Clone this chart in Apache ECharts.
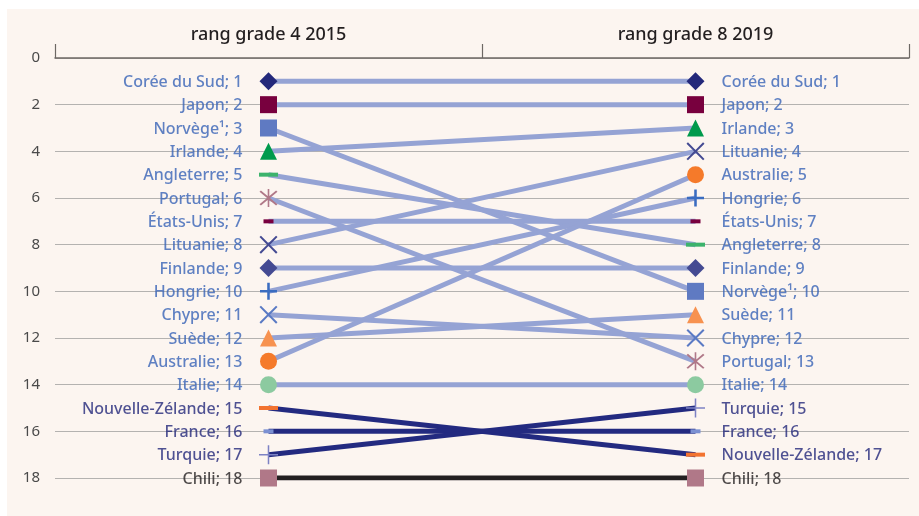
<!DOCTYPE html>
<html><head><meta charset="utf-8">
<script src="https://cdn.jsdelivr.net/npm/echarts@6/dist/echarts.min.js"></script>
<style>html,body{margin:0;padding:0;background:#fff}#c{width:919px;height:516px}</style>
</head><body><div id="c"></div>
<script>
// Data
const columns = ['rang grade 4 2015', 'rang grade 8 2019'];
const countries = ['Corée du Sud','Japon','Norvège¹','Irlande','Angleterre','Portugal','États-Unis','Lituanie','Finlande','Hongrie','Chypre','Suède','Australie','Italie','Nouvelle-Zélande','France','Turquie','Chili'];
const rank2015 = [1,2,3,4,5,6,7,8,9,10,11,12,13,14,15,16,17,18];
const rank2019 = [1,2,10,3,8,13,7,4,9,6,12,11,5,14,17,16,15,18];
const yMin = 0, yMax = 18, yStep = 2;

// Styles
const LAV = '#95a3d4', NAVY = '#232a80', BLACK = '#231f20';
const BLUE_TXT = '#3763b6', NAVY_TXT = '#23287a';
const X_PATH = 'path://M0,1.6 L1.6,0 L10,8.4 L18.4,0 L20,1.6 L11.6,10 L20,18.4 L18.4,20 L10,11.6 L1.6,20 L0,18.4 L8.4,10 Z';
const PLUS_THICK = 'path://M0,8.5 L20,8.5 L20,11.5 L0,11.5 Z M8.5,0 L11.5,0 L11.5,20 L8.5,20 Z';
const PLUS_THIN = 'path://M0,9.2 L20,9.2 L20,10.8 L0,10.8 Z M9.2,0 L10.8,0 L10.8,20 L9.2,20 Z';
const STAR_PATH = 'path://M0,1.6 L1.6,0 L10,8.4 L18.4,0 L20,1.6 L11.6,10 L20,18.4 L18.4,20 L10,11.6 L1.6,20 L0,18.4 L8.4,10 Z M9.1,-2 L10.9,-2 L10.9,22 L9.1,22 Z';
const styles = [
  {sym:'diamond', size:18, c:'#23287a', line:LAV, txt:BLUE_TXT},
  {sym:'rect', size:17, c:'#78003e', line:LAV, txt:BLUE_TXT},
  {sym:'rect', size:17, c:'#5f7ac2', line:LAV, txt:BLUE_TXT},
  {sym:'triangle', size:17, c:'#009a4c', line:LAV, txt:BLUE_TXT},
  {sym:'rect', size:[19,4], c:'#3cb36c', line:LAV, txt:BLUE_TXT},
  {sym:STAR_PATH, size:18, c:'#b07888', line:LAV, txt:BLUE_TXT},
  {sym:'rect', size:[10,4], c:'#78003e', line:LAV, txt:BLUE_TXT},
  {sym:X_PATH, size:18, c:'#444a92', line:LAV, txt:BLUE_TXT},
  {sym:'diamond', size:18, c:'#444a92', line:LAV, txt:BLUE_TXT},
  {sym:PLUS_THICK, size:17, c:'#3a6cc0', line:LAV, txt:BLUE_TXT},
  {sym:X_PATH, size:18, c:'#5a7ac4', line:LAV, txt:BLUE_TXT},
  {sym:'triangle', size:17, c:'#f79250', line:LAV, txt:BLUE_TXT},
  {sym:'circle', size:17, c:'#f57a2a', line:LAV, txt:BLUE_TXT},
  {sym:'circle', size:17, c:'#8ccaa0', line:LAV, txt:BLUE_TXT},
  {sym:'rect', size:[19,4], c:'#f27330', line:NAVY, txt:NAVY_TXT},
  {sym:'rect', size:[10,4], c:'#7b90d2', line:NAVY, txt:NAVY_TXT},
  {sym:PLUS_THIN, size:19, c:'#7d82c4', line:NAVY, txt:NAVY_TXT},
  {sym:'rect', size:17, c:'#b07888', line:BLACK, txt:BLACK}
];

const FONT = 'Noto Sans';
const series = [];
countries.forEach((name, i) => {
  const s = styles[i];
  series.push({
    type:'line', name:name, z: (s.line===LAV?2:3),
    data:[[columns[0], rank2015[i]], [columns[1], rank2019[i]]],
    symbol:s.sym, symbolSize:s.size, symbolKeepAspect:false,
    itemStyle:{color:s.c, opacity:1},
    lineStyle:{color:s.line, width:5},
    animation:false, silent:true
  });
});
// Labels (left and right)
const leftLabels = countries.map((n,i)=>({value:[columns[0], rank2015[i]], label:{color:styles[i].txt}, name:n+'; '+rank2015[i]}));
const rightLabels = countries.map((n,i)=>({value:[columns[1], rank2019[i]], label:{color:styles[i].txt}, name:n+'; '+rank2019[i]}));
series.push({type:'scatter', data:leftLabels, symbolSize:0, z:5, animation:false, silent:true,
  label:{show:true, position:'left', distance:26, offset:[0,1], formatter:p=>p.name, fontFamily:FONT, fontSize:16, fontWeight:500}});
series.push({type:'scatter', data:rightLabels, symbolSize:0, z:5, animation:false, silent:true,
  label:{show:true, position:'right', distance:26, offset:[0,1], formatter:p=>p.name, fontFamily:FONT, fontSize:16, fontWeight:500}});

const chart = echarts.init(document.getElementById('c'), null, {renderer:'canvas'});
chart.setOption({
  backgroundColor:'#ffffff',
  animation:false,
  graphic:[{type:'rect', shape:{x:7,y:9,width:912,height:507}, style:{fill:'#fcf5f0'}, z:-10, silent:true}],
  grid:{left:55, right:10, top:58, bottom:38},
  xAxis:{type:'category', data:columns, position:'top', boundaryGap:true,
    axisLine:{lineStyle:{color:'#6d6864', width:1.5}},
    axisTick:{show:true, length:14, lineStyle:{color:'#6d6864', width:1.2}},
    axisLabel:{color:'#231f20', fontSize:18, fontFamily:FONT, fontWeight:500, margin:14},
    splitLine:{show:false}},
  yAxis:{type:'value', inverse:true, min:yMin, max:yMax, interval:yStep,
    axisLine:{show:false}, axisTick:{show:false},
    axisLabel:{color:'#4a4a4a', fontSize:15, fontFamily:FONT, margin:15},
    splitLine:{lineStyle:{color:'#b4b2b0', width:1}}},
  series:series
});
</script></body></html>
